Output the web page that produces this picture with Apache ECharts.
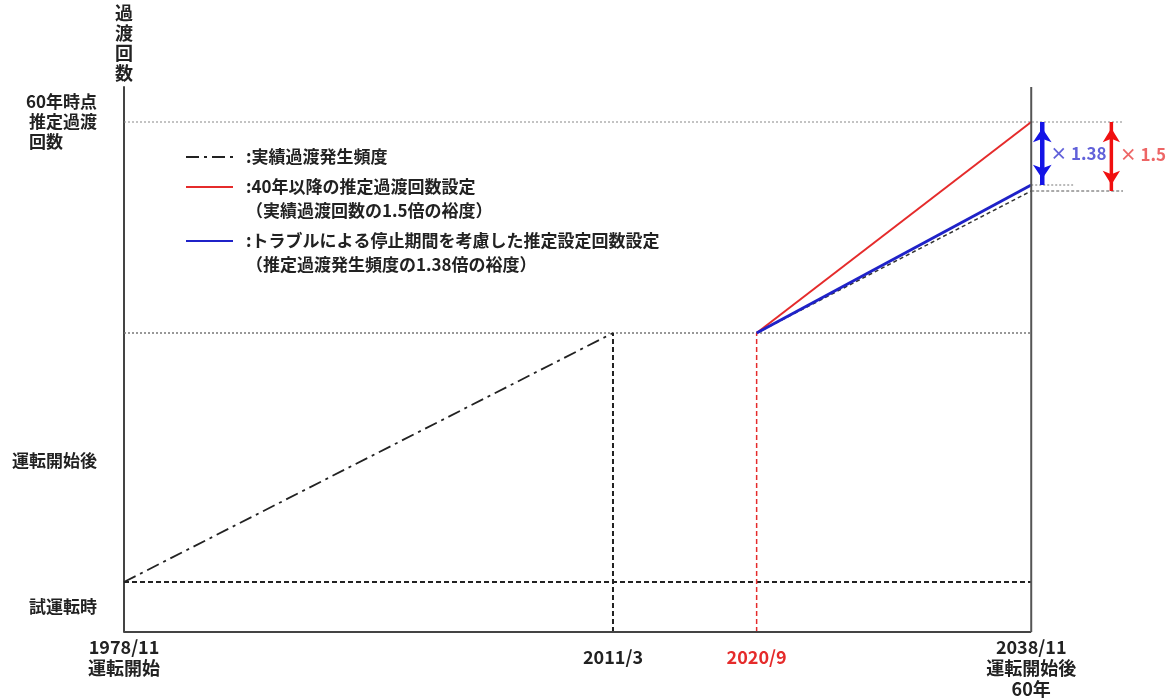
<!DOCTYPE html>
<html>
<head>
<meta charset="utf-8">
<script src="https://cdn.jsdelivr.net/npm/echarts@6/dist/echarts.min.js"></script>
<style>
html,body{margin:0;padding:0;background:#fff;}
#chart{width:1170px;height:698px;}
</style>
</head>
<body>
<div id="chart"></div>
<script>
// ---- data ----
const xTicks = [1978.83, 2011.17, 2020.67, 2038.83];
const xTickLabels = ['1978/11\n運転開始', '2011/3', '2020/9', '2038/11\n運転開始後\n60年'];
const yTicks = [510, 171, 25];
const yTickLabels = ['60年時点\n推定過渡\n回数　　', '運転開始後', '試運転時'];

const actualX = [1978.83, 2011.17];
const actualY = [50, 299];
const futureX = [2020.67, 2038.83];
const redY = [299, 510];
const blueY = [299, 447];
const estY = [299, 441];

const seriesNames = [
  ':実績過渡発生頻度',
  ':40年以降の推定過渡回数設定\n（実績過渡回数の1.5倍の裕度）',
  ':トラブルによる停止期間を考慮した推定設定回数設定\n（推定過渡発生頻度の1.38倍の裕度）'
];
const ratioLabels = ['× 1.38', '× 1.5'];
const yAxisName = '過渡回数';

// ---- chart ----
const FONT = '"Noto Sans CJK JP", "Noto Sans", sans-serif';
const TXT = '#222';
const RED = '#e52b2b';
const BLUE = '#1f22c8';
const W = 'bold';
const chart = echarts.init(document.getElementById('chart'), null, {renderer: 'canvas'});

function pair(xs, ys) { return xs.map((x, i) => [x, ys[i]]); }
const xStart = xTicks[0];
const xEnd = xTicks[3];
const yTop = 545;
const xOuter = 2044.9;   // right end of the dotted guide lines (= axis max)
const xShort = 2041.6;   // right end of the short dotted guide
const xArrowBlue = 2039.56;
const xArrowRed = 2044.13;

function guide(name, pts, color, width, type, z) {
  return {
    type: 'line', name: name, data: pts, symbol: 'none', silent: true, z: z || 1,
    lineStyle: {color: color, width: width, type: type}
  };
}
function arrow(name, x, y1, y2, color, width, size) {
  return {
    type: 'line', name: name, silent: true, z: 6, clip: false,
    symbol: 'arrow', symbolSize: size, showSymbol: true, showAllSymbol: true,
    itemStyle: {color: color},
    lineStyle: {color: color, width: width},
    data: [
      {value: [x, y1], symbolRotate: 0, symbolOffset: [0, '45%']},
      {value: [x, y2], symbolRotate: 180, symbolOffset: [0, '-45%']}
    ]
  };
}

const option = {
  backgroundColor: '#fff',
  animation: false,
  textStyle: {fontFamily: FONT},
  grid: {left: 124, right: 47, top: 87, bottom: 66, outerBoundsMode: 'none', containLabel: false},
  legend: {
    orient: 'vertical',
    left: 185,
    top: 145,
    padding: 0,
    itemGap: -18,
    itemWidth: 47,
    itemHeight: 14,
    selectedMode: false,
    itemStyle: {opacity: 0},
    formatter: function (name) { return name.indexOf('\n') >= 0 ? '\n' + name : name; },
    textStyle: {fontFamily: FONT, fontSize: 17, fontWeight: W, lineHeight: 24, color: TXT, padding: [0, 0, 0, 8]},
    data: seriesNames
  },
  xAxis: {
    type: 'value',
    min: xStart,
    max: xOuter,
    axisLine: {show: false},
    axisTick: {show: false},
    splitLine: {show: false},
    axisLabel: {
      customValues: xTicks,
      margin: 5,
      fontFamily: FONT,
      fontSize: 18,
      fontWeight: W,
      lineHeight: 21,
      color: TXT,
      formatter: function (v) {
        const i = xTicks.findIndex(t => Math.abs(t - v) < 0.01);
        if (i === 2) return '{red|' + xTickLabels[i] + '}';
        if (i === 1) return '{one|' + xTickLabels[i] + '}';
        return xTickLabels[i];
      },
      rich: {
        red: {color: RED, fontSize: 18, fontWeight: W, lineHeight: 40, fontFamily: FONT},
        one: {color: TXT, fontSize: 18, fontWeight: W, lineHeight: 40, fontFamily: FONT}
      }
    }
  },
  yAxis: {
    type: 'value',
    min: 0,
    max: yTop,
    name: yAxisName.split('').join('\n'),
    nameLocation: 'end',
    nameGap: 4,
    nameTextStyle: {fontFamily: FONT, fontSize: 18, fontWeight: W, lineHeight: 20, color: TXT, align: 'center', verticalAlign: 'bottom'},
    axisLine: {show: true, lineStyle: {color: '#444', width: 2}},
    axisTick: {show: false},
    splitLine: {show: false},
    axisLabel: {
      customValues: yTicks,
      margin: 27,
      fontFamily: FONT,
      fontSize: 17,
      fontWeight: W,
      lineHeight: 20,
      color: TXT,
      formatter: function (v) {
        const i = yTicks.findIndex(t => Math.abs(t - v) < 0.01);
        return yTickLabels[i];
      }
    }
  },
  series: [
    // frame: bottom axis line and right (60-year) line
    guide('bottomAxis', [[xStart, 0], [xEnd, 0]], '#444', 2, 'solid', 7),
    guide('rightAxis', [[xEnd, 0], [xEnd, yTop]], '#555', 2, 'solid', 7),
    // guide lines
    guide('g60', [[xStart, redY[1]], [xOuter, redY[1]]], '#888', 1, [2, 2]),
    guide('g2011', [[xStart, actualY[1]], [xEnd, actualY[1]]], '#777', 1.5, [2, 2]),
    guide('gTrial', [[xStart, actualY[0]], [xEnd, actualY[0]]], '#222', 2, [5, 3]),
    guide('v2011', [[actualX[1], 0], [actualX[1], actualY[1]]], '#222', 2, [5, 3]),
    guide('v2020', [[futureX[0], 0], [futureX[0], actualY[1]]], RED, 1.5, [5, 3]),
    guide('gBlue', [[xEnd, blueY[1]], [xShort, blueY[1]]], '#777', 1, [2, 2]),
    guide('gEst', [[xEnd, estY[1]], [xOuter, estY[1]]], '#555', 1, [3, 2]),
    {
      type: 'line',
      name: seriesNames[0],
      data: pair(actualX, actualY),
      symbol: 'none',
      color: '#222',
      lineStyle: {color: '#222', width: 1.8, type: [13, 5, 3, 5]},
      z: 3
    },
    {
      type: 'line',
      name: 'est',
      data: pair(futureX, estY),
      symbol: 'none',
      lineStyle: {color: '#333', width: 1.5, type: [4, 3]},
      z: 3
    },
    {
      type: 'line',
      name: seriesNames[1],
      data: pair(futureX, redY),
      symbol: 'none',
      color: RED,
      lineStyle: {color: RED, width: 2},
      z: 4
    },
    {
      type: 'line',
      name: seriesNames[2],
      data: pair(futureX, blueY),
      symbol: 'none',
      color: BLUE,
      lineStyle: {color: BLUE, width: 3},
      z: 5
    },
    arrow('arrowBlue', xArrowBlue, redY[1], blueY[1], '#1414e6', 4.5, [14, 14]),
    arrow('arrowRed', xArrowRed, redY[1], estY[1], '#f01010', 3.5, [13, 14]),
    {
      type: 'scatter',
      name: 'ratioText',
      clip: false,
      silent: true,
      symbolSize: 0,
      data: [
        {value: [2039.95, 478], label: {formatter: ratioLabels[0], color: '#3a3ad0'}},
        {value: [2044.55, 477], label: {formatter: ratioLabels[1], color: '#e84040'}}
      ],
      label: {show: true, position: 'right', distance: 2, fontFamily: FONT, fontSize: 17, fontWeight: W}
    }
  ]
};
chart.setOption(option);
</script>
</body>
</html>
